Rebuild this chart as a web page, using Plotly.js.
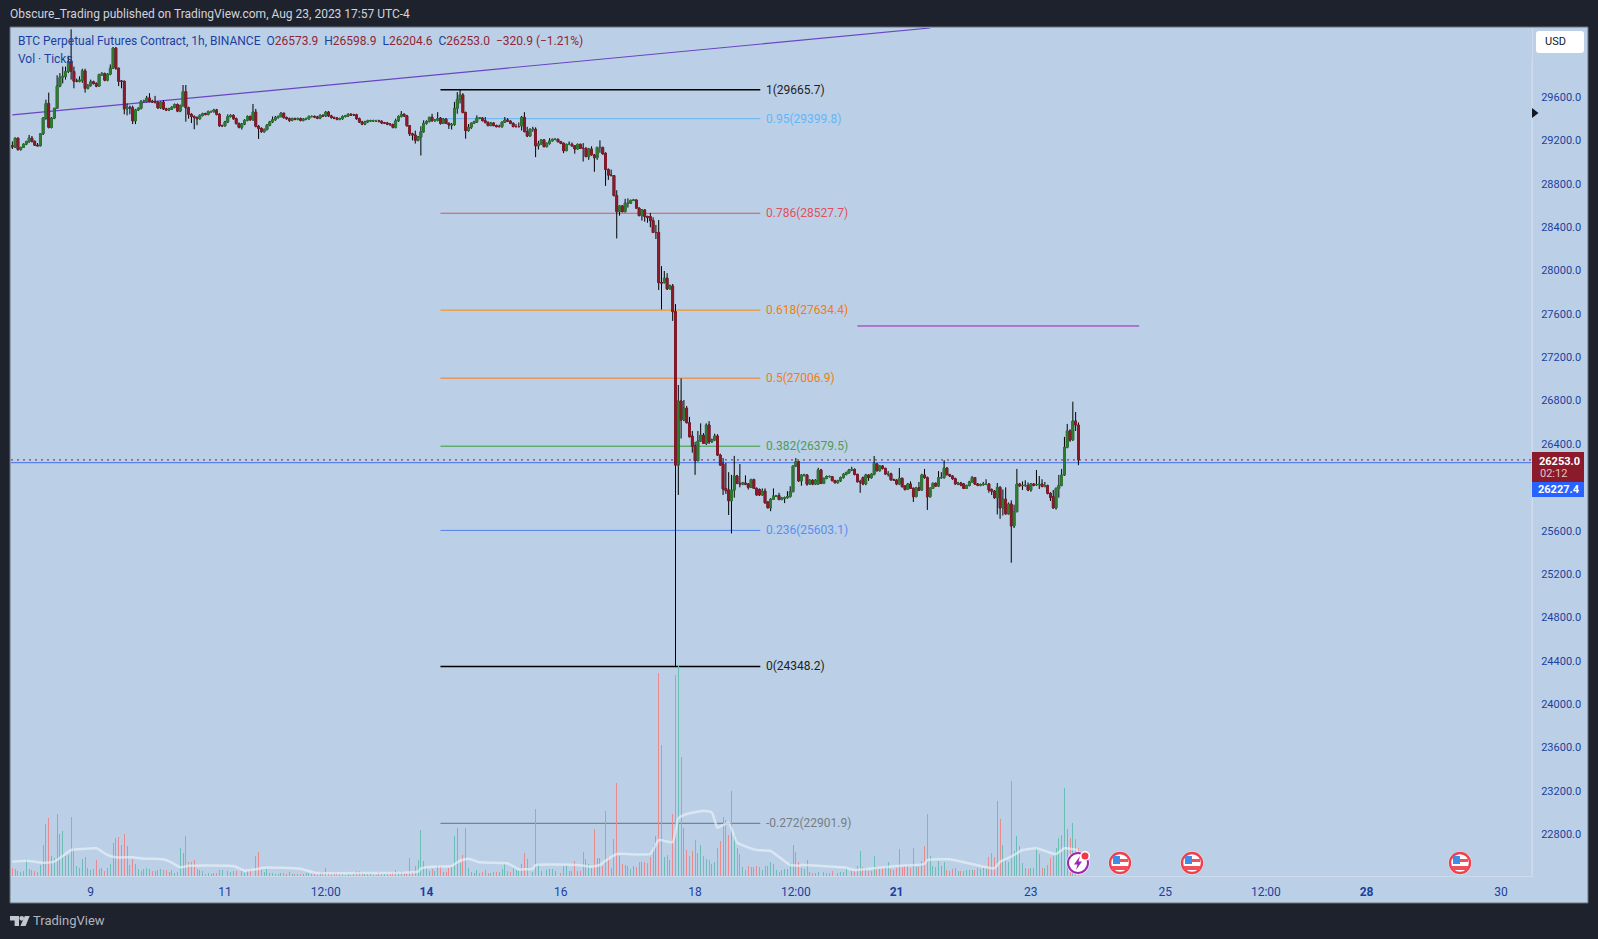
<!DOCTYPE html>
<html><head><meta charset="utf-8">
<script src="https://cdn.plot.ly/plotly-3.0.1.min.js"></script>
<style>html,body{margin:0;padding:0;background:#1e222d;overflow:hidden}#c{width:1598px;height:939px}</style>
</head><body><div id="c"></div>
<script>
const firstBarUTC = Date.UTC(2023,7,7,20);
const opens = [
29150,29140,29220,29115,29135,29165,29190,29220,29190,29155,
29150,29260,29405,29540,29320,29405,29495,29700,29780,29790,
29835,29930,29835,29745,29745,29755,29840,29680,29705,29740,
29725,29700,29805,29815,29755,29810,29865,30050,29865,29745,
29745,29490,29505,29500,29380,29480,29495,29560,29560,29590,
29560,29555,29550,29500,29550,29490,29480,29490,29505,29530,
29470,29520,29650,29500,29440,29420,29410,29400,29430,29445,
29440,29465,29465,29480,29440,29335,29335,29370,29420,29430,
29400,29355,29320,29350,29385,29420,29390,29460,29330,29310,
29280,29300,29340,29370,29390,29410,29420,29450,29410,29400,
29385,29400,29395,29400,29385,29395,29400,29420,29420,29415,
29405,29430,29425,29460,29425,29410,29405,29395,29400,29420,
29425,29440,29435,29435,29400,29370,29350,29370,29380,29380,
29380,29380,29375,29360,29360,29350,29345,29320,29380,29420,
29440,29425,29335,29260,29250,29200,29230,29280,29357,29373,
29413,29382,29385,29405,29357,29395,29357,29342,29345,29495,
29578,29618,29456,29290,29320,29357,29370,29405,29405,29382,
29365,29336,29360,29336,29327,29327,29367,29388,29377,29357,
29327,29327,29333,29412,29280,29240,29302,29302,29150,29167,
29204,29142,29173,29195,29210,29210,29188,29173,29105,29163,
29163,29150,29120,29163,29127,29127,29050,29120,29065,29040,
29135,29135,29080,28932,28880,28875,28690,28543,28595,28543,
28620,28620,28645,28650,28575,28506,28558,28497,28497,28460,
28350,28350,27888,27888,27928,27830,27857,27620,26205,26796,
26621,26729,26596,26473,26381,26246,26427,26480,26406,26575,
26420,26437,26473,26298,26215,25990,25975,25877,25975,26105,
26037,26030,26040,26030,26000,26072,25990,25980,25930,25965,
25865,25812,25890,25920,25925,25888,25900,25905,25915,25960,
26197,26237,26060,26114,26114,26030,26065,26030,26030,26160,
26036,26083,26100,26100,26062,26043,26060,26090,26120,26135,
26160,26165,26120,26052,26090,26031,26114,26090,26120,26215,
26154,26197,26175,26123,26125,26070,26068,26031,26083,26012,
25982,26031,25991,25914,25996,25975,26114,26090,25914,25991,
26037,26012,26089,26090,26178,26117,26105,26080,26031,26040,
26031,25990,26016,26050,26090,26030,26020,26025,26030,26030,
25980,25965,25905,26000,25810,25890,25755,25846,25644,25776,
26031,26015,26018,26018,25975,26031,26025,26025,26030,26008,
26015,25945,25915,25810,25990,26018,26114,26369,26520,26437,
26612,26573.9];
const closes = [
29140,29220,29115,29135,29165,29190,29220,29190,29155,29150,
29260,29405,29540,29320,29405,29495,29700,29780,29790,29835,
29925,29835,29745,29745,29755,29840,29680,29705,29740,29725,
29700,29805,29815,29755,29810,29865,30050,29865,29745,29745,
29490,29505,29500,29380,29480,29495,29560,29560,29590,29560,
29555,29550,29500,29550,29490,29480,29490,29505,29530,29470,
29520,29650,29500,29440,29420,29410,29400,29430,29445,29440,
29465,29465,29480,29440,29335,29335,29370,29420,29430,29400,
29355,29320,29350,29385,29420,29390,29460,29330,29310,29280,
29300,29340,29370,29390,29410,29420,29450,29410,29400,29385,
29400,29395,29400,29385,29395,29400,29420,29420,29415,29405,
29430,29425,29460,29425,29410,29405,29395,29400,29420,29425,
29440,29435,29435,29400,29370,29350,29370,29380,29380,29380,
29380,29375,29360,29360,29350,29345,29320,29380,29420,29440,
29425,29335,29260,29250,29200,29230,29280,29357,29373,29413,
29382,29385,29400,29357,29395,29357,29342,29345,29495,29578,
29620,29456,29290,29320,29357,29370,29405,29405,29382,29365,
29336,29360,29336,29327,29327,29367,29388,29377,29357,29327,
29327,29327,29412,29280,29240,29302,29302,29150,29167,29204,
29142,29173,29195,29210,29210,29188,29173,29105,29163,29163,
29150,29120,29163,29127,29125,29050,29120,29065,29040,29135,
29135,29075,28932,28880,28875,28690,28543,28595,28543,28620,
28625,28645,28650,28575,28506,28558,28497,28490,28460,28350,
28350,27888,27885,27928,27830,27857,27620,26205,26796,26621,
26729,26596,26467,26381,26246,26427,26480,26406,26575,26420,
26437,26473,26298,26206,25985,25970,25877,25975,26105,26037,
26030,26040,26030,26000,26072,25990,25930,25930,25965,25858,
25812,25890,25920,25920,25888,25900,25905,25915,25960,26197,
26237,26060,26114,26114,26030,26065,26030,26065,26160,26036,
26083,26100,26100,26062,26043,26060,26090,26120,26135,26160,
26165,26120,26052,26052,26031,26114,26090,26120,26222,26154,
26197,26175,26123,26125,26070,26068,26031,26083,26006,25982,
26031,25991,25914,25996,25975,26114,26090,25914,25991,26037,
26012,26089,26090,26178,26117,26105,26080,26031,26040,26022,
25990,26016,26050,26090,26030,26020,26025,26030,26030,25975,
25965,25905,26000,25810,25890,25755,25846,25644,25776,26031,
26015,26018,26018,25975,26031,26020,26025,26028,26008,26015,
25945,25908,25810,25990,26018,26114,26369,26520,26437,26612,
26575,26253];
const highs = [
29190,29225,29225,29140,29170,29195,29250,29240,29200,29175,
29265,29415,29575,29640,29415,29500,29800,29820,29880,29880,
29980,30224,29880,29770,29790,29860,29860,29720,29760,29750,
29735,29815,29830,29825,29820,29900,30060,30060,29870,29755,
29750,29540,29520,29520,29490,29505,29570,29575,29610,29635,
29575,29610,29560,29560,29570,29500,29500,29515,29540,29540,
29530,29710,29710,29510,29450,29430,29420,29440,29455,29455,
29475,29475,29490,29490,29450,29345,29380,29440,29440,29440,
29410,29365,29360,29395,29430,29430,29535,29490,29340,29320,
29310,29350,29380,29420,29425,29430,29460,29455,29420,29410,
29410,29410,29410,29410,29405,29410,29430,29430,29430,29425,
29440,29440,29470,29470,29435,29420,29415,29410,29430,29435,
29450,29450,29445,29445,29410,29380,29380,29390,29390,29390,
29390,29390,29385,29370,29370,29360,29355,29400,29430,29470,
29450,29435,29340,29270,29290,29240,29330,29385,29385,29415,
29445,29395,29460,29415,29405,29405,29365,29360,29555,29645,
29665,29635,29465,29350,29365,29380,29430,29415,29415,29415,
29375,29370,29365,29345,29345,29375,29415,29405,29385,29365,
29350,29365,29425,29460,29325,29310,29325,29320,29195,29210,
29210,29180,29220,29215,29215,29215,29195,29180,29170,29190,
29180,29155,29170,29170,29175,29135,29130,29145,29075,29140,
29200,29140,29090,28940,28930,28880,28740,28600,28600,28660,
28665,28655,28660,28655,28580,28565,28565,28505,28530,28490,
28420,28465,28040,27995,27975,27870,27875,27690,26944,27005,
26805,26750,26650,26520,26420,26520,26590,26500,26590,26610,
26450,26495,26490,26310,26270,26225,26140,26115,26290,26115,
26215,26050,26110,26040,26080,26080,26000,25990,25990,25990,
25870,25900,25990,25930,25950,25910,25915,25965,26010,26200,
26270,26245,26120,26125,26120,26075,26075,26075,26180,26170,
26090,26110,26110,26105,26070,26070,26100,26130,26145,26170,
26190,26175,26125,26070,26100,26125,26120,26130,26289,26225,
26205,26205,26180,26150,26135,26080,26075,26178,26090,26020,
26040,26055,26000,26005,26050,26125,26170,26100,26000,26045,
26045,26150,26140,26250,26185,26125,26110,26090,26050,26050,
26040,26025,26060,26105,26095,26040,26035,26050,26075,26040,
25990,25975,26040,26010,25980,26000,25860,25880,25840,26170,
26040,26055,26065,26045,26040,26040,26160,26105,26075,26050,
26025,25955,25975,26000,26115,26170,26465,26585,26535,26790,
26695,26598.9];
const lows = [
29120,29130,29105,29105,29130,29155,29175,29180,29150,29145,
29145,29250,29390,29310,29310,29395,29490,29690,29725,29760,
29820,29760,29680,29735,29735,29730,29640,29670,29695,29715,
29690,29695,29795,29745,29745,29800,29860,29850,29700,29680,
29440,29430,29440,29350,29350,29470,29485,29550,29550,29550,
29545,29540,29490,29490,29480,29470,29470,29480,29495,29460,
29460,29510,29372,29400,29360,29302,29340,29390,29420,29430,
29430,29455,29455,29430,29325,29325,29325,29360,29410,29390,
29345,29310,29300,29340,29375,29380,29380,29320,29213,29270,
29270,29290,29330,29360,29380,29400,29410,29400,29390,29370,
29375,29385,29385,29375,29375,29385,29390,29410,29405,29395,
29395,29415,29415,29415,29400,29395,29385,29385,29390,29410,
29415,29425,29425,29390,29360,29340,29340,29360,29370,29370,
29370,29365,29350,29350,29340,29335,29310,29310,29370,29410,
29415,29325,29240,29200,29170,29190,29060,29270,29345,29365,
29370,29370,29375,29345,29350,29350,29305,29300,29335,29445,
29540,29450,29215,29280,29305,29350,29360,29395,29375,29355,
29330,29330,29330,29320,29320,29315,29360,29370,29350,29320,
29320,29320,29290,29275,29230,29235,29280,29045,29115,29160,
29135,29135,29160,29190,29200,29180,29165,29082,29100,29155,
29140,29077,29115,29120,29005,29045,29020,29060,28910,29020,
29085,29070,28780,28835,28870,28685,28295,28505,28535,28535,
28580,28615,28640,28570,28500,28460,28450,28440,28398,28345,
28290,27820,27640,27880,27820,27825,27535,24348,25930,26450,
26610,26590,26460,26320,26115,26240,26420,26400,26390,26400,
26410,26430,26290,26200,25930,25940,25745,25575,25905,26030,
26000,26020,26020,25980,25995,25985,25925,25920,25925,25850,
25805,25780,25885,25910,25880,25880,25855,25895,25905,25955,
26190,26050,26015,26100,26015,26025,26020,26025,26025,26030,
26030,26075,26090,26055,26035,26035,26050,26080,26110,26125,
26150,26110,26045,25950,26020,26020,26060,26080,26110,26145,
26145,26165,26115,26100,26060,26060,26020,26025,26000,25970,
25975,25985,25865,25910,25965,25970,26080,25792,25905,25985,
26005,26005,26080,26080,26110,26095,26070,26025,26020,26010,
25985,25985,26010,26045,26025,26010,26010,26015,26020,25950,
25930,25895,25750,25710,25740,25750,25750,25305,25625,25770,
26005,25975,26005,25965,25960,26010,26015,25985,26000,26000,
25935,25875,25805,25795,25905,26010,26105,26360,26420,26430,
26520,26204.6];
const volumes = [
25,21,15,13,15,51,21,18,15,12,
33,93,156,175,60,55,186,126,135,60,
63,177,85,30,25,51,57,25,18,21,
48,21,24,15,24,36,99,114,117,93,
126,90,33,50,36,21,15,21,24,21,
15,15,18,21,18,18,12,18,9,12,
84,69,120,42,42,48,21,18,15,5,
9,6,9,9,18,18,12,15,12,15,
15,9,15,9,15,21,90,60,72,22,
12,21,9,9,5,6,9,9,6,12,
5,6,6,5,6,9,9,6,5,3,
12,12,24,9,6,9,9,6,6,4,
6,4,6,15,15,9,6,6,6,4,
3,12,6,6,6,6,12,18,9,16,
10,8,53,13,30,48,138,45,23,16,
20,16,33,30,13,13,23,26,120,144,
38,63,144,23,12,10,18,10,13,18,
9,9,12,12,12,20,35,15,13,23,
18,16,36,68,50,18,13,201,35,16,
13,18,20,21,16,13,10,30,33,15,
15,45,15,15,72,50,36,23,141,53,
53,30,195,57,23,111,279,60,36,33,
30,21,30,27,42,42,42,39,57,93,
120,609,393,57,63,48,186,603,633,357,
144,78,60,75,108,69,93,60,51,48,
36,42,84,105,177,168,123,255,123,84,
66,27,18,30,27,27,30,27,18,30,
30,42,36,18,12,18,21,21,39,93,
72,42,23,20,48,11,9,8,11,18,
11,9,8,14,18,9,12,13,23,18,
15,16,30,75,27,24,15,15,60,27,
24,24,30,42,21,18,24,81,27,30,
30,23,84,28,27,45,90,186,60,30,
27,45,30,42,18,15,21,24,15,15,
15,18,18,18,18,24,21,24,24,57,
69,57,225,171,93,48,42,285,75,120,
90,39,24,21,24,24,84,66,24,24,
33,54,60,84,114,123,264,141,113,159,
111,83];
const volMaBars = [0,5,11,15,18,21,25,30,34,37,43,47,54,57,60,63,79,83,87,90,103,108,139,145,146,150,157,160,163,167,177,181,186,187,202,207,210,212,216,228,231,236,238,240,247,250,252,256,259,266,271,278,281,282,297,301,316,326,327,335,346,351,353,357,361,366,373,376,381];
const volMaValues = [43,46,40,43,60,78,81,83,63,56,56,52,50,40,26,31,30,16,20,25,22,10,10,13,23,28,30,46,52,41,38,20,22,33,33,28,33,46,66,66,108,101,173,183,196,191,145,160,100,78,75,33,31,33,26,18,30,36,48,50,30,23,43,58,78,83,66,83,78];
const fibLevels = ["1","0.95","0.786","0.618","0.5","0.382","0.236","0","-0.272"];
const fibPrices = [29665.7,29399.8,28527.7,27634.4,27006.9,26379.5,25603.1,24348.2,22901.9];
const priceTicks = [22800,23200,23600,24000,24400,24800,25200,25600,26400,26800,27200,27600,28000,28400,28800,29200,29600];
const timeTickDates = ["2023-08-09","2023-08-11","2023-08-12 12:00","2023-08-14","2023-08-16","2023-08-18","2023-08-19 12:00","2023-08-21","2023-08-23","2023-08-25","2023-08-26 12:00","2023-08-28","2023-08-30"];
const timeTickLabels = ["9","11","12:00","<b>14</b>","16","18","12:00","<b>21</b>","23","25","12:00","<b>28</b>","30"];
const fibColors = ["#000000","#64b5f6","#e0505f","#ff8a00","#f57c1c","#3a9a3a","#4d80f0","#000000","#6a7079"];
const fibTextColors = ["#222222","#64b5f6","#e0505f","#f07d10","#f07d10","#4e9a5a","#5b8cf0","#222222","#777d85"];

const FONT = "Roboto, 'Noto Sans', sans-serif";
const BLUE = "#1c3f9e", VALRED = "#8f2638";
const L=11,R=1532,T=28,B=876,W=1598,H=939;
const X=x=>(x-L)/(R-L), Y=y=>(B-y)/(B-T);
const UP="#2e7d32", DOWN="#8b1a2b";
const barTime = i => new Date(firstBarUTC+i*3600000).toISOString();
const times = opens.map((_,i)=>barTime(i));
const bodyHigh = opens.map((o,i)=>Math.max(o,closes[i]));
const bodyLow  = opens.map((o,i)=>Math.min(o,closes[i]));
const fibStart = barTime(153), fibEnd = barTime(267.3);

const wick = {type:"candlestick",x:times,open:opens,high:highs,low:lows,close:closes,
  increasing:{line:{color:"#000000",width:1},fillcolor:"rgba(0,0,0,0)"},
  decreasing:{line:{color:"#000000",width:1},fillcolor:"rgba(0,0,0,0)"},
  whiskerwidth:0,hoverinfo:"skip",showlegend:false};
const body = {type:"candlestick",x:times,open:opens,high:bodyHigh,low:bodyLow,close:closes,
  increasing:{line:{color:UP,width:1},fillcolor:UP},
  decreasing:{line:{color:DOWN,width:1},fillcolor:DOWN},
  whiskerwidth:0,hoverinfo:"skip",showlegend:false};
const vol = {type:"bar",x:times,y:volumes,yaxis:"y2",width:1250000,
  marker:{color:opens.map((o,i)=>closes[i]>=o?"#6cbdb5":"#e88b8f",),line:{width:0}},
  hoverinfo:"skip",showlegend:false};
const volMa = {type:"scatter",mode:"lines",x:volMaBars.map(barTime),y:volMaValues,yaxis:"y2",
  line:{color:"rgba(235,242,250,0.65)",width:2.5,shape:"spline",smoothing:0.4},hoverinfo:"skip",showlegend:false};

const rectPx=(x0,y0,x1,y1,extra)=>Object.assign({type:"rect",xref:"paper",yref:"paper",x0:X(x0),x1:X(x1),y0:Y(y0),y1:Y(y1),line:{width:0}},extra);
const circPx=(cx,cy,r,extra)=>Object.assign({type:"circle",xref:"paper",yref:"paper",x0:X(cx-r),x1:X(cx+r),y0:Y(cy-r),y1:Y(cy+r),line:{width:0}},extra);
const polyPx=(pts,extra)=>Object.assign({type:"path",xref:"paper",yref:"paper",path:"M "+pts.map(p=>X(p[0])+","+Y(p[1])).join(" L ")+" Z",line:{width:0}},extra);
const shapes=[];
shapes.push(rectPx(10,27,1588,903,{layer:"below",fillcolor:"#bbd0e6",line:{color:"#69707c",width:1}}));
fibLevels.forEach((_,i)=>shapes.push({type:"line",layer:"below",xref:"x",yref:"y",x0:fibStart,x1:fibEnd,y0:fibPrices[i],y1:fibPrices[i],
  line:{color:fibColors[i],width:(i==0||i==7)?1.5:1}}));
shapes.push({type:"line",layer:"below",xref:"x",yref:"y",x0:barTime(0),x1:barTime(328),y0:29434,y1:30236,line:{color:"#6a45c4",width:1.2}});
shapes.push({type:"line",layer:"below",xref:"x",yref:"y",x0:barTime(302),x1:barTime(402.7),y0:27488,y1:27488,line:{color:"#a020b0",width:1}});
shapes.push({type:"line",layer:"below",xref:"paper",yref:"y",x0:0,x1:1,y0:26227.4,y1:26227.4,line:{color:"#3f6fe8",width:1}});
shapes.push({type:"line",layer:"below",xref:"paper",yref:"y",x0:0,x1:1,y0:26253,y1:26253,line:{color:"#8b1a2b",width:1,dash:"2px,4px"}});
shapes.push({type:"line",xref:"paper",yref:"paper",x0:1,x1:1,y0:0,y1:Y(58),line:{color:"#cddcec",width:1}});
const ux0=1536,ux1=1584,uy0=31,uy1=53,ur=3;
shapes.push({type:"path",xref:"paper",yref:"paper",fillcolor:"#ffffff",line:{width:0},
 path:`M ${X(ux0+ur)},${Y(uy0)} L ${X(ux1-ur)},${Y(uy0)} Q ${X(ux1)},${Y(uy0)} ${X(ux1)},${Y(uy0+ur)} L ${X(ux1)},${Y(uy1-ur)} Q ${X(ux1)},${Y(uy1)} ${X(ux1-ur)},${Y(uy1)} L ${X(ux0+ur)},${Y(uy1)} Q ${X(ux0)},${Y(uy1)} ${X(ux0)},${Y(uy1-ur)} L ${X(ux0)},${Y(uy0+ur)} Q ${X(ux0)},${Y(uy0)} ${X(ux0+ur)},${Y(uy0)} Z`});
shapes.push(polyPx([[1532,108],[1538.5,113],[1532,118]],{fillcolor:"#131722"}));
shapes.push(rectPx(1532,452,1584,482,{fillcolor:"#8b1a2b"}));
shapes.push(rectPx(1532,482,1584,497,{fillcolor:"#2962ff"}));
[1120,1192,1460].forEach(cx=>{const cy=863;
 shapes.push(circPx(cx,cy,11.5,{fillcolor:"#ffffff"}));
 shapes.push(circPx(cx,cy,10,{fillcolor:"#ffffff",line:{color:"#f0404f",width:2.4}}));
 shapes.push(rectPx(cx-7,cy-7,cx,cy+1,{fillcolor:"#3d8ee8"}));
 shapes.push(rectPx(cx,cy-4,cx+8,cy-1,{fillcolor:"#f0505a"}));
 shapes.push(rectPx(cx-8,cy+3,cx+8,cy+7,{fillcolor:"#f0505a"}));
});
shapes.push(circPx(1078,863,11.5,{fillcolor:"#ffffff"}));
shapes.push(circPx(1078,863,10,{fillcolor:"#ffffff",line:{color:"#9c27b0",width:2}}));
shapes.push(polyPx([[1080,856],[1074,864.5],[1077.5,864.5],[1076,870],[1082,861.5],[1078.5,861.5]],{fillcolor:"#9c27b0"}));
shapes.push(circPx(1085,856,5,{fillcolor:"#ffffff"}));
shapes.push(circPx(1085,856,3.5,{fillcolor:"#f23645"}));
shapes.push(polyPx([[10,916],[19,916],[19,926],[14.6,926],[14.6,920.6],[10,920.6]],{fillcolor:"#c4c7ce"}));
shapes.push(circPx(21.7,918.3,2.4,{fillcolor:"#c4c7ce"}));
shapes.push(polyPx([[24.8,916],[29.7,916],[25.6,926],[20.4,926]],{fillcolor:"#c4c7ce"}));

const note=(x,y,text,color,size,anchor)=>({xref:"paper",yref:"paper",x:X(anchor==="right"?x+2:x-2),y:Y(y),text:text,showarrow:false,xanchor:anchor||"left",yanchor:"middle",
  font:{family:FONT,size:size||12,color:color}});
const anns=[];
anns.push(note(10,14,"Obscure_Trading published on TradingView.com, Aug 23, 2023 17:57 UTC-4","#d1d4dc",12));
const v=s=>`<span style="color:${VALRED}">${s}</span>`;
anns.push(note(18,41.5,`BTC Perpetual Futures Contract, 1h, BINANCE  O${v("26573.9")}  H${v("26598.9")}  L${v("26204.6")}  C${v("26253.0")}  ${v("−320.9 (−1.21%)")}`,BLUE,12));
anns.push(note(18,59,"Vol · Ticks",BLUE,12));
fibLevels.forEach((l,i)=>anns.push({xref:"paper",yref:"y",x:X(764),y:fibPrices[i],text:`${l}(${fibPrices[i].toFixed(1)})`,showarrow:false,xanchor:"left",yanchor:"middle",font:{family:FONT,size:12,color:fibTextColors[i]}}));
anns.push(note(1545,42,"USD","#131722",11));
anns.push(note(1580,461,"<b>26253.0</b>","#ffffff",11,"right"));
anns.push(note(1567,473.5,"02:12","#e3c3c8",11,"right"));
anns.push(note(1580,489.5,"<b>26227.4</b>","#ffffff",11,"right"));
anns.push(note(33,921,"TradingView","#b2b5be",13));

const layout={width:W,height:H,autosize:false,margin:{l:L,r:W-R,t:T,b:H-B,pad:0},
 paper_bgcolor:"#1e222d",plot_bgcolor:"rgba(0,0,0,0)",showlegend:false,bargap:0,barmode:"overlay",boxgap:0.12,
 font:{family:FONT,size:12,color:BLUE},
 xaxis:{type:"date",range:["2023-08-07 19:31","2023-08-30 11:06"],rangeslider:{visible:false},showgrid:false,zeroline:false,
  tickmode:"array",tickvals:timeTickDates,ticktext:timeTickLabels,ticks:"outside",ticklen:5,tickcolor:"rgba(0,0,0,0)",
  tickfont:{family:FONT,size:12,color:BLUE},showline:true,linecolor:"#cddcec",linewidth:1},
 yaxis:{range:[22416,30236],side:"right",showgrid:false,zeroline:false,tickmode:"array",tickvals:priceTicks,
  ticktext:priceTicks.map(p=>p.toFixed(1)),ticks:"outside",ticklen:6,tickcolor:"rgba(0,0,0,0)",
  tickfont:{family:FONT,size:11,color:BLUE},showline:true,linecolor:"#cddcec",linewidth:1},
 yaxis2:{overlaying:"y",range:[0,2544],visible:false,side:"left"},
 shapes:shapes,annotations:anns};
Plotly.newPlot("c",[wick,body,vol,volMa],layout,{displayModeBar:false,staticPlot:true});
</script></body></html>
